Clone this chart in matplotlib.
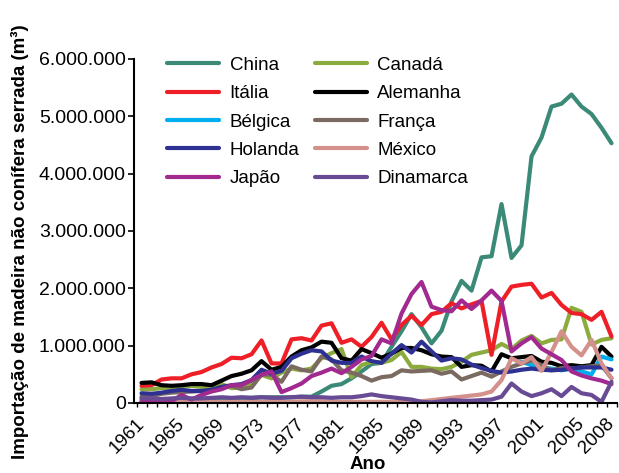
import numpy as np
import matplotlib
matplotlib.use('Agg')
import matplotlib.pyplot as plt
import matplotlib.ticker as ticker

plt.rcParams['font.family'] = ['Liberation Sans', 'DejaVu Sans']

# anos 1961-2008
anos = list(range(1961, 2009))

# importação (milhões de m3)
china = [0.05, 0.05, 0.05, 0.06, 0.06, 0.07, 0.07, 0.08, 0.08, 0.08, 0.09, 0.09,
         0.10, 0.10, 0.10, 0.10, 0.11, 0.11, 0.20, 0.30, 0.33, 0.43, 0.55, 0.68,
         0.70, 0.98, 1.25, 1.55, 1.32, 1.04, 1.26, 1.77, 2.13, 1.96, 2.54, 2.56,
         3.47, 2.53, 2.75, 4.30, 4.63, 5.17, 5.22, 5.38, 5.17, 5.04, 4.80, 4.53]
italia = [0.30, 0.31, 0.41, 0.43, 0.43, 0.50, 0.54, 0.62, 0.68, 0.79, 0.78, 0.85,
          1.09, 0.69, 0.69, 1.11, 1.13, 1.09, 1.35, 1.39, 1.05, 1.11, 0.98, 1.15,
          1.40, 1.11, 1.36, 1.52, 1.36, 1.55, 1.59, 1.74, 1.65, 1.72, 1.78, 0.84,
          1.77, 2.03, 2.06, 2.08, 1.84, 1.92, 1.71, 1.57, 1.55, 1.45, 1.59, 1.16]
belgica = [np.nan] * 38 + [0.72, 0.66, 0.62, 0.60, 0.57, 0.60, 0.55, 0.50,
                           0.81, 0.76]
holanda = [0.17, 0.16, 0.18, 0.21, 0.23, 0.21, 0.21, 0.23, 0.28, 0.31, 0.33, 0.40,
           0.58, 0.51, 0.56, 0.78, 0.86, 0.92, 0.90, 0.74, 0.70, 0.70, 0.81, 0.73,
           0.70, 0.86, 1.01, 0.88, 1.07, 0.90, 0.74, 0.78, 0.76, 0.67, 0.61, 0.56,
           0.53, 0.55, 0.58, 0.60, 0.58, 0.57, 0.58, 0.60, 0.62, 0.62, 0.62, 0.58]
japao = [0.02, 0.02, 0.03, 0.03, 0.14, 0.06, 0.14, 0.20, 0.24, 0.31, 0.31, 0.40,
         0.49, 0.55, 0.19, 0.26, 0.34, 0.47, 0.53, 0.60, 0.52, 0.63, 0.76, 0.82,
         1.11, 1.04, 1.56, 1.90, 2.11, 1.68, 1.62, 1.60, 1.79, 1.64, 1.79, 1.96,
         1.78, 0.90, 1.04, 1.15, 0.95, 0.85, 0.75, 0.55, 0.48, 0.43, 0.39, 0.33]
canada = [0.24, 0.24, 0.26, 0.27, 0.28, 0.30, 0.28, 0.27, 0.33, 0.26, 0.27, 0.33,
          0.49, 0.43, 0.53, 0.60, 0.57, 0.60, 0.78, 0.87, 0.94, 0.45, 0.66, 0.72,
          0.70, 0.75, 0.89, 0.63, 0.63, 0.60, 0.59, 0.63, 0.72, 0.84, 0.88, 0.92,
          1.03, 0.94, 1.09, 1.17, 1.04, 1.10, 1.11, 1.66, 1.59, 1.02, 1.10, 1.13]
alemanha = [0.35, 0.36, 0.31, 0.30, 0.31, 0.33, 0.33, 0.31, 0.39, 0.47, 0.51, 0.57,
            0.73, 0.58, 0.63, 0.81, 0.92, 0.97, 1.07, 1.05, 0.78, 0.74, 0.94, 0.87,
            0.79, 0.86, 0.96, 0.96, 0.92, 0.85, 0.81, 0.80, 0.63, 0.66, 0.65, 0.55,
            0.85, 0.78, 0.80, 0.82, 0.72, 0.70, 0.64, 0.66, 0.64, 0.66, 0.98, 0.81]
franca = [0.11, 0.12, 0.16, 0.18, 0.19, 0.20, 0.21, 0.22, 0.27, 0.30, 0.24, 0.27,
          0.50, 0.49, 0.37, 0.64, 0.58, 0.55, 0.81, 0.76, 0.57, 0.53, 0.47, 0.39,
          0.45, 0.47, 0.57, 0.55, 0.56, 0.57, 0.51, 0.55, 0.41, 0.47, 0.53, 0.46,
          0.55, 0.63, 0.69, 0.74, 0.66, 0.57, 0.61, 0.60, 0.62, 0.64, 0.66, 0.43]
mexico = [0.02, 0.02, 0.02, 0.02, 0.02, 0.02, 0.02, 0.02, 0.02, 0.02, 0.02, 0.02,
          0.02, 0.02, 0.02, 0.02, 0.03, 0.03, 0.03, 0.02, 0.02, 0.02, 0.02, 0.02,
          0.02, 0.02, 0.02, 0.02, 0.03, 0.05, 0.07, 0.09, 0.11, 0.13, 0.15, 0.20,
          0.40, 0.78, 0.69, 0.80, 0.56, 0.89, 1.25, 0.98, 0.83, 1.10, 0.69, 0.43]
dinamarca = [0.08, 0.08, 0.07, 0.08, 0.09, 0.08, 0.08, 0.09, 0.10, 0.09, 0.10, 0.09,
             0.10, 0.09, 0.09, 0.10, 0.11, 0.10, 0.10, 0.09, 0.10, 0.10, 0.12, 0.15,
             0.12, 0.10, 0.08, 0.06, 0.02, 0.01, 0.03, 0.05, 0.04, 0.04, 0.05, 0.06,
             0.11, 0.34, 0.20, 0.12, 0.17, 0.24, 0.12, 0.28, 0.17, 0.14, 0.02, 0.37]

anos_rotulo = [1961, 1965, 1969, 1973, 1977, 1981, 1985, 1989, 1993, 1997,
               2001, 2005, 2008]

# ordem de desenho (series do Excel)
series = [
    ("China", china, '#3b8a78'),
    ("Canadá", canada, '#8cab3e'),
    ("Itália", italia, '#ee1f26'),
    ("Alemanha", alemanha, '#000000'),
    ("Bélgica", belgica, '#00aeef'),
    ("França", franca, '#7b6a62'),
    ("Holanda", holanda, '#2e3192'),
    ("México", mexico, '#d4918c'),
    ("Japão", japao, '#a2298f'),
    ("Dinamarca", dinamarca, '#694a94'),
]
ordem_legenda = ["China", "Itália", "Bélgica", "Holanda", "Japão",
                 "Canadá", "Alemanha", "França", "México", "Dinamarca"]

fig = plt.figure(figsize=(6.19, 4.73), dpi=100)
ax = fig.add_axes((0.2165, 0.148, 0.7803, 0.7273))

linhas = {}
for nome, vals, cor in series:
    v = np.array(vals, dtype=float) * 1e6
    ln, = ax.plot(anos, v, color=cor, lw=3.0, label=nome,
                  solid_capstyle='round', solid_joinstyle='round')
    linhas[nome] = ln

ax.set_xlim(1960.25, 2008.55)
ax.set_ylim(0, 6e6)

# eixo y
ax.yaxis.set_major_locator(ticker.MultipleLocator(1e6))
ax.yaxis.set_major_formatter(
    ticker.FuncFormatter(lambda v, p: f"{int(round(v)):,}".replace(",", ".")))
ax.tick_params(axis='y', direction='out', length=4, width=1.2, labelsize=14,
               pad=2)

# eixo x: rotulos nas categorias, marcas entre categorias
ax.set_xticks(anos_rotulo)
ax.set_xticklabels([str(a) for a in anos_rotulo], rotation=45, ha='right',
                   va='center', rotation_mode='anchor')
ax.set_xticks(np.arange(1960.5, 2009, 1.0), minor=True)
ax.tick_params(axis='x', which='major', length=0, labelsize=13.5, pad=13)
ax.tick_params(axis='x', which='minor', direction='out', length=3, width=1.0)

for s in ['top', 'right']:
    ax.spines[s].set_visible(False)
for s in ['left', 'bottom']:
    ax.spines[s].set_linewidth(1.5)

fig.text(368 / 619, 0.0, "Ano", ha='center', va='bottom', fontsize=13.5,
         fontweight='bold')
fig.text(0.032, 0.49, "Importação de madeira não conífera serrada (m³)",
         rotation=90, ha='center', va='center', fontsize=13.5,
         fontweight='bold')

hand = [linhas[n] for n in ordem_legenda]
ax.legend(hand, ordem_legenda, ncol=2, frameon=False, fontsize=13.5,
          loc='upper left', bbox_to_anchor=(0.2695, 0.880),
          bbox_transform=fig.transFigure, handlelength=2.8,
          handletextpad=0.55, columnspacing=0.8, labelspacing=0.6,
          borderaxespad=0, borderpad=0)

fig.savefig("out.png", dpi=100)
